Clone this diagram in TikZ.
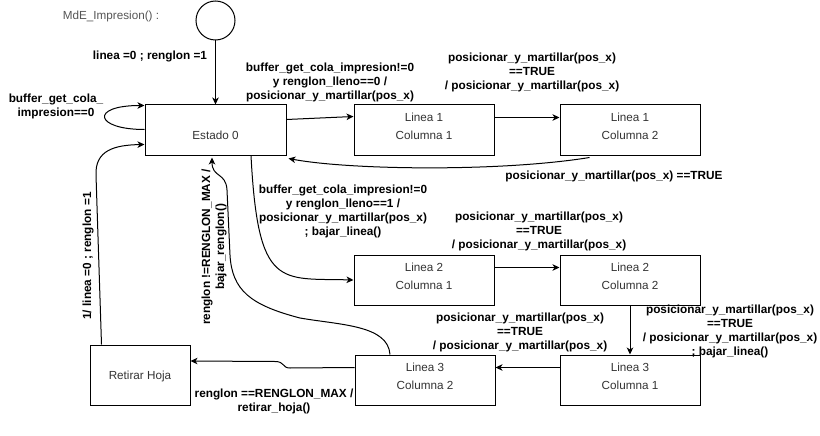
\documentclass[tikz,border=0pt]{standalone}
\usepackage{fontspec}
\setmainfont{Liberation Sans}
\usetikzlibrary{arrows.meta}
\definecolor{txtgray}{HTML}{333333}
\definecolor{titlegray}{HTML}{555555}
\newcommand{\dosl}[2]{\begin{tabular}[t]{@{}c@{}}#1\\#2\end{tabular}}
\tikzset{
	estado/.style={draw, line width=1pt, minimum width=140pt, minimum height=50pt, inner sep=0pt, text=txtgray, font=\fontsize{11.7}{18}\selectfont, text height=8.6pt, text depth=26pt},
	lbl/.style={align=center, inner sep=0pt, font=\fontsize{11.8}{14}\selectfont\bfseries},
	flecha/.style={draw, line width=1pt, -{Stealth[length=7pt,width=6.5pt,inset=2pt]}}
}

\begin{document}
\begin{tikzpicture}[x=1pt, y=-1pt]
\useasboundingbox (0,0) rectangle (820,436);

% estados
\node[text=titlegray, font=\fontsize{11.7}{14}\selectfont] (titulo) at (111,16) {MdE\_Impresion() :};
\node[draw, circle, line width=1pt, minimum size=39pt, inner sep=0pt] (ini) at (215.5,20.5) {};
\node[estado, minimum width=141pt, text height=19pt, text depth=0pt] (e0) at (215.5,130) {Estado 0};
\node[estado] (l11) at (424,130) {\dosl{Linea 1}{Columna 1}};
\node[estado] (l12) at (630,130) {\dosl{Linea 1}{Columna 2}};
\node[estado] (l21) at (424,280) {\dosl{Linea 2}{Columna 1}};
\node[estado] (l22) at (630,280) {\dosl{Linea 2}{Columna 2}};
\node[estado] (l31) at (630,380) {\dosl{Linea 3}{Columna 1}};
\node[estado] (l32) at (425,380) {\dosl{Linea 3}{Columna 2}};
\node[estado, minimum width=100pt, minimum height=60pt, text height=8.6pt, text depth=0pt] (ret) at (140,375) {Retirar Hoja};

% etiquetas
\node[lbl] (t0) at (150,56) {linea =0 ; renglon =1};
\node[lbl] (t1) at (56,106) {buffer\_get\_cola\_\\impresion==0};
\node[lbl] (t2) at (330,82) {buffer\_get\_cola\_impresion!=0\\y renglon\_lleno==0 /\\posicionar\_y\_martillar(pos\_x)};
\node[lbl] (t3) at (532,72) {posicionar\_y\_martillar(pos\_x)\\==TRUE\\/ posicionar\_y\_martillar(pos\_x)};
\node[lbl] (t4) at (614,176) {posicionar\_y\_martillar(pos\_x) ==TRUE};
\node[lbl] (t5) at (343,211) {buffer\_get\_cola\_impresion!=0\\y renglon\_lleno==1 /\\posicionar\_y\_martillar(pos\_x)\\; bajar\_linea()};
\node[lbl] (t6) at (539,231) {posicionar\_y\_martillar(pos\_x)\\==TRUE\\/ posicionar\_y\_martillar(pos\_x)};
\node[lbl] (t7) at (730,331) {posicionar\_y\_martillar(pos\_x)\\==TRUE\\/ posicionar\_y\_martillar(pos\_x)\\; bajar\_linea()};
\node[lbl] (t8) at (520,332) {posicionar\_y\_martillar(pos\_x)\\==TRUE\\/ posicionar\_y\_martillar(pos\_x)};
\node[lbl] (t9) at (274,401) {renglon ==RENGLON\_MAX /\\retirar\_hoja()};
\node[lbl, rotate=90] (t10) at (214,247) {renglon !=RENGLON\_MAX /\\bajar\_renglon()};
\node[lbl, rotate=90] (t11) at (88,256) {1/ linea =0 ; renglon =1};

% transiciones
\draw[flecha] (ini.south) -- (e0.north);
\draw[flecha] ([yshift=-25pt]e0.north west) .. controls +(-50,0) and +(-55,0) .. ([yshift=-1pt]e0.north west);
\draw[flecha] ([yshift=-15pt]e0.north east) -- ([yshift=-12pt]l11.north west);
\draw[flecha] ([yshift=-13pt]l11.north east) -- ([yshift=-13pt]l12.north west);
\draw[flecha] ([xshift=30pt,yshift=-2pt]l12.south west) .. controls (500,172) and (350,170) .. ([xshift=2pt,yshift=-3pt]e0.south east);
\draw[flecha] ([xshift=35.5pt]e0.south) .. controls (258,290) and (280,278) .. (l21.west);
\draw[flecha] ([yshift=-13pt]l21.north east) -- ([yshift=-13pt]l22.north west);
\draw[flecha] (l22.south) -- (l31.north);
\draw[flecha] ([yshift=-13pt]l31.north west) -- ([yshift=-13pt]l32.north east);
\draw[flecha] ([yshift=-13pt]l32.north west) -- (290,368) .. controls (282,368) and (285,361.5) .. (275,361.5) -- ([yshift=14pt]ret.east);
\draw[flecha] ([xshift=-35pt]l32.north) .. controls (388,325) and (340,325) .. (300,318) .. controls (250,305) and (232,290) .. (230,255) -- (227,190) .. controls (226,172) and (212,178) .. ([xshift=-3.5pt,yshift=-2pt]e0.south);
\draw[flecha] ([xshift=12pt]ret.north west) -- (96,175) .. controls (95,150) and (115,145) .. ([yshift=-40pt]e0.north west);
\end{tikzpicture}
\end{document}
